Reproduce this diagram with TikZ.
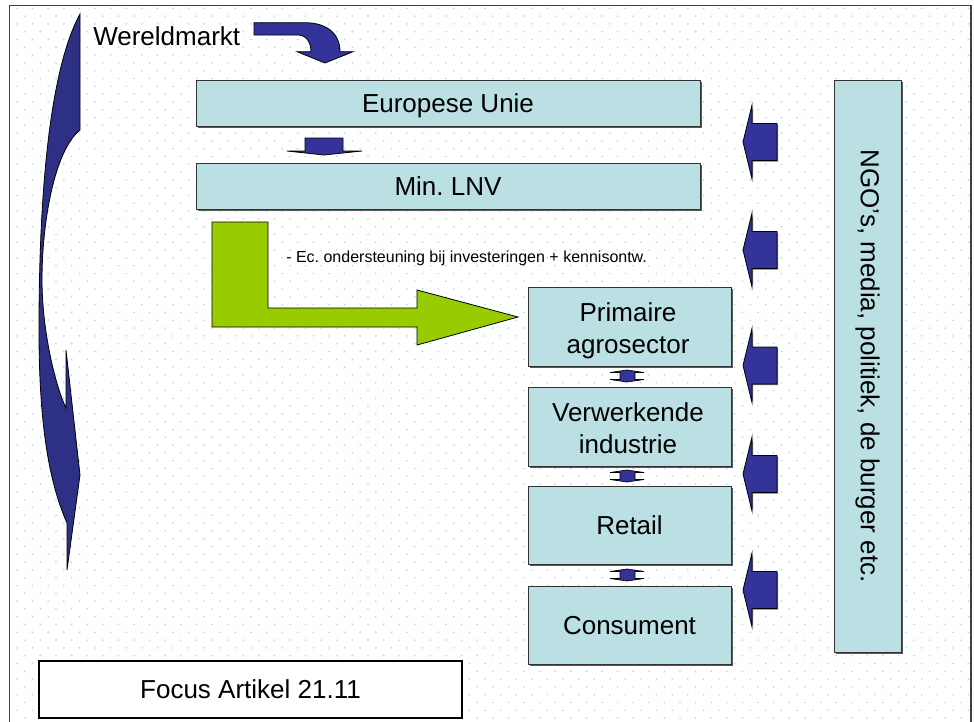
\documentclass[tikz,border=0pt]{standalone}
\usepackage{fontspec}
\setmainfont{Liberation Sans}
\usetikzlibrary{shadows}
\definecolor{boxc}{HTML}{BBE0E3}
\definecolor{navyc}{HTML}{333399}
\definecolor{navyd}{HTML}{2E3086}
\definecolor{limec}{HTML}{99CC00}
\definecolor{dotc}{HTML}{A9D9DC}
\newcommand\bigfont{\fontsize{19.5}{24}\selectfont}
\newcommand\smallfont{\fontsize{12}{14}\selectfont}
\frenchspacing
\tikzset{
  cbox/.style={draw=black!80, line width=0.7pt, fill=boxc, inner sep=0pt, align=center, font=\bigfont,
    drop shadow={shadow xshift=1.3pt, shadow yshift=-1.3pt, fill=black!65, opacity=1}},
  oneline/.style={text height=14pt, text depth=-1pt},
  boxtext/.style={inner sep=0pt, align=center, font=\bigfont},
  blockarrow/.style={fill=navyc, draw=black, line width=0.6pt},
  dotrow/.style={dotc, line width=1.3pt, line cap=round, dash pattern=on 0pt off 11.7pt},
  plain/.style={inner sep=0pt, font=\bigfont}
}
\begin{document}
\begin{tikzpicture}[x=0.75pt,y=-0.75pt]
\useasboundingbox (0,0) rectangle (974,721);
\clip (0,0) rectangle (974,721);
\fill[white] (0,0) rectangle (974,721);
% dotted background
\foreach \k in {0,...,46} {
  \draw[dotrow] (17.0,{8.3+15.6*\k}) -- (970,{8.3+15.6*\k});
  \draw[dotrow] (24.8,{16.1+15.6*\k}) -- (970,{16.1+15.6*\k});
}
% frame
\draw[black!75, line width=1.1pt] (9.5,5.5) rectangle (971,760);

% left curved arrow (world market back up)
\filldraw[fill=navyd, draw=black, line width=0.6pt]
  (80,14) -- (80,130)
  .. controls (55,150) and (42,220) .. (42,280)
  .. controls (42,330) and (55,385) .. (66,408)
  -- (66,350) -- (80,475) -- (67,570) -- (67,523)
  .. controls (48,480) and (39,420) .. (39,330)
  .. controls (39,160) and (55,60) .. (80,14) -- cycle;

% Wereldmarkt
\node[plain, anchor=base west] (wm) at (93,45) {Wereldmarkt};
\filldraw[blockarrow]
  (254,22.7) -- (305,22.7) .. controls (326,22.7) and (340,33) .. (340,51.7)
  -- (353,51.7) -- (325,63) -- (297,51.7) -- (311,51.7)
  .. controls (311,42) and (306,35) .. (298,35) -- (254,35) -- cycle;

% EU and LNV
\node[cbox, oneline, minimum width={504*0.75pt}, minimum height={46*0.75pt}] (eu) at (448,103) {Europese Unie};
\filldraw[blockarrow] (305,138) -- (343,138) -- (343,151) -- (362,151) -- (324,155) -- (287,151) -- (305,151) -- cycle;
\node[cbox, oneline, minimum width={504*0.75pt}, minimum height={46*0.75pt}] (lnv) at (448,186) {Min. LNV};

% green bent arrow
\filldraw[fill=limec, draw=black, line width=0.6pt]
  (212,222) -- (268,222) -- (268,308) -- (417,308) -- (417,290) -- (518,317)
  -- (417,345) -- (417,327) -- (212,327) -- cycle;
\node[inner sep=0pt, font=\smallfont, anchor=west] (ec) at (286,258) {- Ec. ondersteuning bij investeringen + kennisontw.};

% chain
\node[cbox, minimum width={203*0.75pt}, minimum height={79*0.75pt}] (prim) at (629.5,326.5) {};
\node[boxtext] (primt) at (628,330.5) {Primaire\\agrosector};
\node[cbox, minimum width={203*0.75pt}, minimum height={79*0.75pt}] (verw) at (629.5,426.5) {};
\node[boxtext] (verwt) at (628,428) {Verwerkende\\industrie};
\node[cbox, oneline, minimum width={203*0.75pt}, minimum height={78*0.75pt}] (ret) at (629.5,525) {Retail};
\node[cbox, oneline, minimum width={203*0.75pt}, minimum height={78*0.75pt}] (cons) at (629.5,625) {Consument};

% small up-down arrows
\foreach \c in {376,476,575} {
  \filldraw[blockarrow, line width=0.5pt]
    (627,\c-6) -- (644,\c-3.5) -- (635,\c-3.5) -- (635,\c+3.5) -- (644,\c+3.5) -- (627,\c+6)
    -- (610,\c+3.5) -- (620,\c+3.5) -- (620,\c-3.5) -- (610,\c-3.5) -- cycle;
}

% NGO box
\node[cbox, minimum width={67*0.75pt}, minimum height={572*0.75pt}] (ngo) at (867.5,366) {};
\node[plain, rotate=-90] (ngot) at (867.5,366) {NGO’s, media, politiek, de burger etc.};

% left-pointing arrows
\foreach \c in {142,250,365.5,474,590} {
  \filldraw[blockarrow, drop shadow={shadow xshift=0.9pt, shadow yshift=-0.9pt, fill=black!55, opacity=1}]
    (777,\c-18.5) -- (752,\c-18.5) -- (752,\c-37) -- (743,\c) -- (752,\c+37)
    -- (752,\c+18.5) -- (777,\c+18.5) -- cycle;
}

% Focus box
\node[draw=black, line width=0.8pt, fill=white, inner sep=0pt, font=\bigfont, oneline,
  minimum width={423*0.75pt}, minimum height={57*0.75pt}] (focus) at (250.5,689.5) {Focus Artikel 21.11};
\end{tikzpicture}
\end{document}
